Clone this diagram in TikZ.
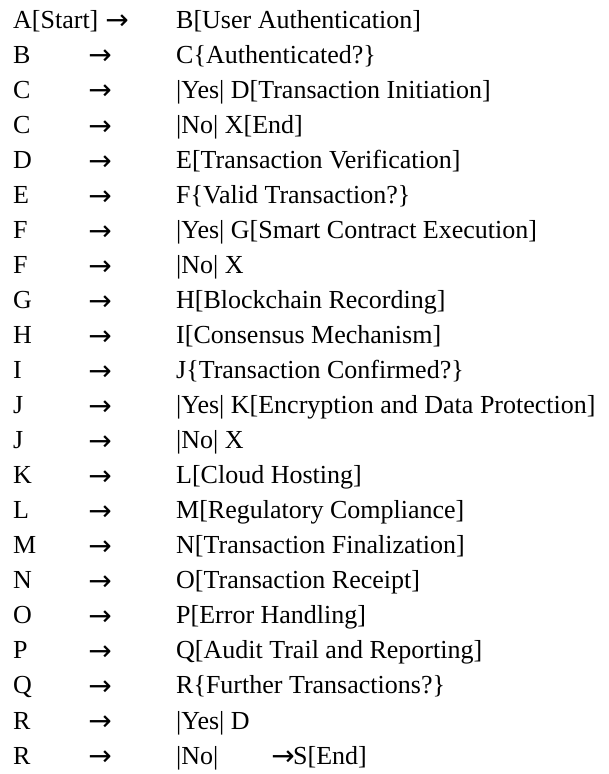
\documentclass[tikz,border=0pt]{standalone}
\usepackage{fontspec}
\setmainfont{Liberation Serif}
\newfontfamily\arrfont{DejaVu Sans}
\usepackage{tikz}
\usetikzlibrary{positioning}
\tikzset{
  rowtxt/.style={anchor=base west, inner sep=0mm, font=\fontsize{26}{30}\selectfont
  },
  arr/.style={anchor=center, inner sep=0mm, font=\arrfont\fontsize{28}{30}\selectfont
  }
}

\begin{document}
\begin{tikzpicture}[x=1pt,y=1pt]
 \useasboundingbox (0,0) rectangle (609,-774);

 % first row
 \node[rowtxt] (src1) at (13,-28) {A[Start]};
 \node[arr] (arr1) at (117,-22.5) {→};
 \node[rowtxt] (dst1) at (176,-28) {B[User Authentication]};

 \foreach \i/\s/\t in {2/B/C\{Authenticated?\}, 3/C/|Yes| D[Transaction Initiation],
   4/C/|No| X[End], 5/D/E[Transaction Verification], 6/E/F\{Valid Transaction?\},
   7/F/|Yes| G[Smart Contract Execution], 8/F/|No| X, 9/G/H[Blockchain Recording],
   10/H/I[Consensus Mechanism], 11/I/J\{Transaction Confirmed?\},
   12/J/|Yes| K[Encryption and Data Protection], 13/J/|No| X, 14/K/L[Cloud Hosting],
   15/L/M[Regulatory Compliance], 16/M/N[Transaction Finalization],
   17/N/O[Transaction Receipt], 18/O/P[Error Handling],
   19/P/Q[Audit Trail and Reporting], 20/Q/R\{Further Transactions?\},
   21/R/|Yes| D, 22/R/|No|} {
   \node[rowtxt] (src\i) at (13,{-28-35.05*(\i-1)}) {\s};
   \node[arr] (arr\i) at (100,{-22.5-35.05*(\i-1)}) {→};
   \node[rowtxt] (dst\i) at (176,{-28-35.05*(\i-1)}) {\t};
  }

 % last row goes on
 \node[arr] (arr23) at (283,-758.6) {→};
 \node[rowtxt] (dst23) at (293,-764.1) {S[End]};
\end{tikzpicture}
\end{document}
